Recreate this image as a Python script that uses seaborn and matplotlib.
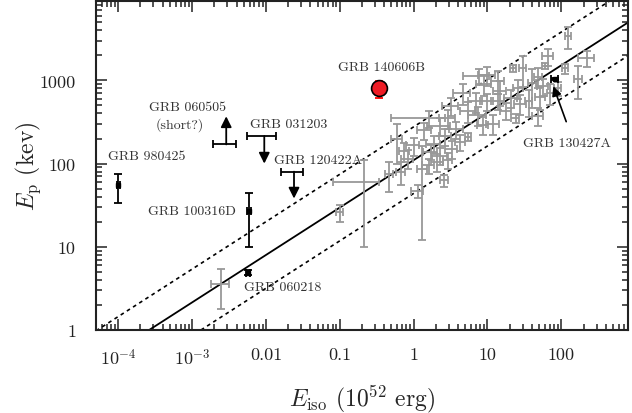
import numpy as np
import pandas as pd
import seaborn as sns
import matplotlib
matplotlib.use("Agg")
import matplotlib.pyplot as plt
from matplotlib.ticker import FixedLocator, FixedFormatter, LogLocator, NullFormatter

# gray sample (Eiso in 1e52 erg, Ep in keV)
eiso = [124, 66, 225, 170, 22, 30, 60, 113, 7.6, 10, 14, 40, 57, 89, 71,
        4.6, 15, 21, 6.9, 10, 14, 28, 36, 52, 3.2, 5.5, 7.5, 24, 48, 12,
        1.6, 2.9, 2.3, 5.4, 0.6, 1.0, 1.86, 2.7, 1.7, 2.3, 0.83, 1.3, 2.6,
        0.47, 0.21, 0.1, 0.67, 1.13, 0.0025, 1.4, 3.8, 4.3, 2.1, 3.3, 0.75,
        1.6, 2.9, 18, 9, 26, 48, 8.8]
ep = [3400, 1950, 1850, 1050, 1390, 1390, 1480, 1390, 1120, 1150, 980, 920,
      850, 800, 700, 700, 740, 620, 560, 560, 560, 520, 560, 640, 490, 430,
      380, 350, 370, 300, 350, 350, 286, 210, 200, 165, 174, 213, 139, 125,
      115, 87, 63, 75, 60, 26, 80, 47, 3.6, 250, 260, 180, 105, 150, 140,
      95, 110, 430, 900, 800, 1100, 290]
eiso_err = [12, 12, 55, 22, 2, 3, 5, 12, 3.0, 2.5, 3, 5, 10, 10, 8,
            1.2, 3, 4, 1.5, 2, 3, 5, 4, 8, 0.8, 1.3, 2, 3, 8, 2.5,
            1.1, 0.7, 0.8, 0.5, 0.1, 0.2, 0.4, 0.5, 0.35, 0.5, 0.15, 0.2, 0.3,
            0.06, 0.13, 0.01, 0.1, 0.2, 0.0007, 0.3, 0.8, 0.7, 0.4, 0.6, 0.12,
            0.3, 0.4, 3, 2, 4, 6, 1.5]
ep_err = [1000, 450, 420, 450, 120, 550, 120, 200, 250, 300, 300, 450,
          200, 150, 200, 200, 250, 150, 150, 130, 120, 140, 200, 200, 120, 120,
          100, 40, 90, 80, 80, 90, 70, 25, 100, 40, 40, 50, 30, 30,
          30, 75, 10, 30, 50, 6, 25, 8, 1.8, 60, 60, 40, 25, 35, 35,
          20, 25, 100, 250, 200, 300, 70]

# special bursts
meas_names = ["GRB 980425", "GRB 100316D", "GRB 060218", "GRB 130427A"]
meas_eiso = [1e-4, 0.0059, 0.0057, 81]
meas_eiso_err = [0.000005, 0.0003, 0.0003, 8]
meas_ep = [55, 27, 4.9, 1030]
meas_ep_err = [21, 17, 0.3, 30]

lim_names = ["GRB 060505", "GRB 031203", "GRB 120422A"]
lim_eiso = [0.0029, 0.0095, 0.024]
lim_eiso_err = [0.001, 0.004, 0.008]
lim_ep = [170, 215, 80]
lim_ep_end = [370, 100, 38]

new_eiso = [0.34]
new_ep = [800]
new_ep_err = [180]

# Amati relation
amati_k = 110
amati_m = 0.57
amati_sig = 0.4

sns.set_style("ticks")
plt.rcParams["font.family"] = ["cmr10", "DejaVu Serif"]
plt.rcParams["mathtext.fontset"] = "cm"
plt.rcParams["axes.formatter.use_mathtext"] = True
plt.rcParams["axes.unicode_minus"] = False

fig = plt.figure(figsize=(6.32, 4.14), dpi=100)
ax = fig.add_axes([0.1519, 0.2005, 0.8418, 0.7947])

xx = np.logspace(np.log10(5e-5), np.log10(800), 50)
lines = pd.DataFrame({
    "x": np.concatenate([xx, xx, xx]),
    "y": np.concatenate([amati_k * xx**amati_m,
                         amati_k * xx**amati_m * 10**amati_sig,
                         amati_k * xx**amati_m / 10**amati_sig]),
    "kind": ["fit"] * 50 + ["up"] * 50 + ["lo"] * 50,
})
sns.lineplot(data=lines[lines.kind == "fit"], x="x", y="y", color="k", lw=1.3, ax=ax)
for k in ["up", "lo"]:
    sns.lineplot(data=lines[lines.kind == k], x="x", y="y", color="k", lw=1.2,
                 linestyle=(0, (2.2, 2.2)), ax=ax)

ax.errorbar(eiso, ep, xerr=eiso_err, yerr=ep_err, fmt="none", ecolor="#999999",
            elinewidth=1.3, capsize=3, capthick=1.3, zorder=3)

ax.errorbar(meas_eiso, meas_ep, xerr=meas_eiso_err, yerr=meas_ep_err, fmt="s",
            color="k", ms=3, elinewidth=1.3, capsize=3, capthick=1.3, zorder=5)

ax.errorbar(lim_eiso, lim_ep, xerr=lim_eiso_err, fmt="none", ecolor="k",
            elinewidth=1.3, capsize=3, capthick=1.3, zorder=5)
for x0, y0, y1 in zip(lim_eiso, lim_ep, lim_ep_end):
    ax.annotate("", xy=(x0, y1), xytext=(x0, y0),
                arrowprops=dict(arrowstyle="-|>", color="k", lw=1.3,
                                mutation_scale=16, shrinkA=0, shrinkB=0))

ax.errorbar(new_eiso, new_ep, yerr=new_ep_err, fmt="none", ecolor="red",
            elinewidth=1.3, capsize=3, capthick=1.3, zorder=6)
sns.scatterplot(x=new_eiso, y=new_ep, s=130, color="#ee1c25", edgecolor="k",
                linewidth=1.2, zorder=7, ax=ax)

tc = "#333333"
fs = 10
ax.text(7.3e-5, 125, "GRB 980425", color=tc, fontsize=fs, ha="left", va="center")
ax.text(0.0029, 485, "GRB 060505", color=tc, fontsize=fs, ha="right", va="center")
ax.text(0.00145, 300, "(short?)", color=tc, fontsize=fs, ha="right", va="center")
ax.text(0.0061, 300, "GRB 031203", color=tc, fontsize=fs, ha="left", va="center")
ax.text(0.0128, 112, "GRB 120422A", color=tc, fontsize=fs, ha="left", va="center")
ax.text(0.094, 1440, "GRB 140606B", color=tc, fontsize=fs, ha="left", va="center")
ax.text(0.0039, 27, "GRB 100316D", color=tc, fontsize=fs, ha="right", va="center")
ax.text(0.005, 3.3, "GRB 060218", color=tc, fontsize=fs, ha="left", va="center")
ax.annotate("GRB 130427A", xy=(78, 850), xytext=(30.6, 178), color=tc, fontsize=fs,
            ha="left", va="center",
            arrowprops=dict(arrowstyle="-|>", color="k", lw=1.2, mutation_scale=14,
                            shrinkA=9, shrinkB=0, relpos=(0.55, 1.0)))

ax.set_xscale("log")
ax.set_yscale("log")
ax.set_xlim(5e-5, 800)
ax.set_ylim(1, 9000)

xt = [1e-4, 1e-3, 0.01, 0.1, 1, 10, 100]
xt_labels = [r"$10^{-4}$", r"$10^{-3}$", "0.01", "0.1", "1", "10", "100"]
yt = [1, 10, 100, 1000]
yt_labels = ["1", "10", "100", "1000"]
ax.xaxis.set_major_locator(FixedLocator(xt))
ax.xaxis.set_major_formatter(FixedFormatter(xt_labels))
ax.yaxis.set_major_locator(FixedLocator(yt))
ax.yaxis.set_major_formatter(FixedFormatter(yt_labels))
ax.xaxis.set_minor_locator(LogLocator(base=10, subs=np.arange(2, 10), numticks=20))
ax.yaxis.set_minor_locator(LogLocator(base=10, subs=np.arange(2, 10), numticks=20))
ax.xaxis.set_minor_formatter(NullFormatter())
ax.yaxis.set_minor_formatter(NullFormatter())
ax.tick_params(which="both", direction="in", top=True, right=True, width=1.1,
               labelsize=13, colors="#222222")
ax.tick_params(axis="x", which="major", pad=12)
ax.tick_params(axis="y", which="major", pad=14.5)
ax.tick_params(which="major", length=8)
ax.tick_params(which="minor", length=4.5)
for s in ax.spines.values():
    s.set_linewidth(1.5)
    s.set_color("#222222")

ax.set_xlabel(r"$E_{\rm iso}$ $(10^{52}$ erg$)$", fontsize=17)
ax.set_ylabel(r"$E_{\rm p}$ (kev)", fontsize=17)
ax.xaxis.set_label_coords(0.5, -0.161)
ax.yaxis.set_label_coords(-0.0996, 0.5)
sns.despine(ax=ax, top=False, right=False)

fig.savefig("out.png", dpi=100)
